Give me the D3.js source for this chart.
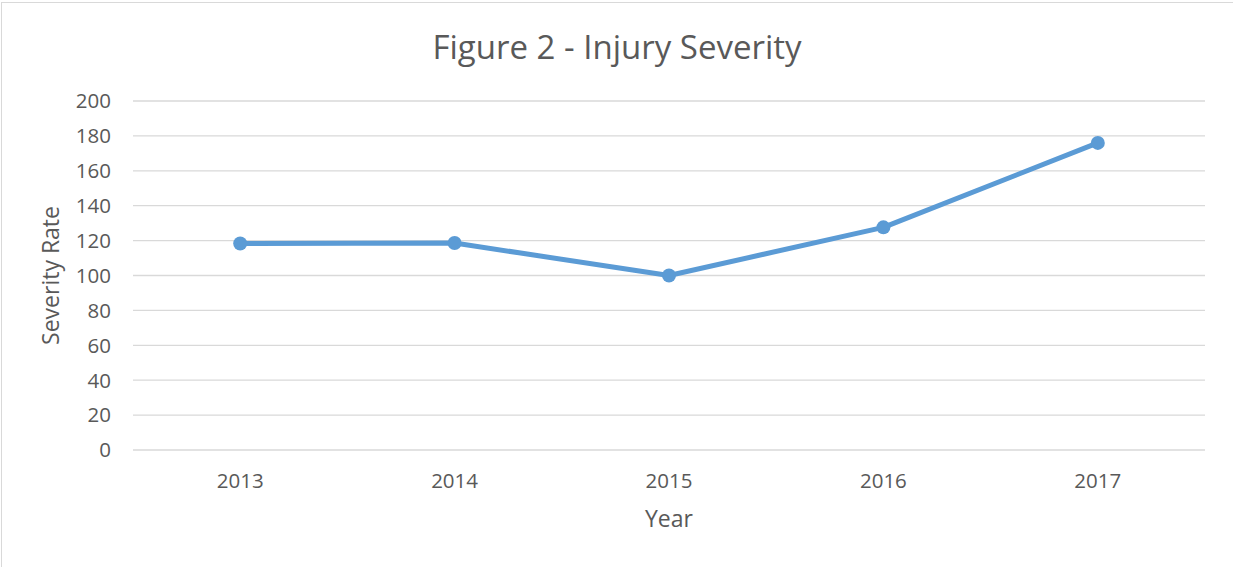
<!DOCTYPE html>
<html>
<head>
<meta charset="utf-8">
<script src="https://cdn.jsdelivr.net/npm/d3@7"></script>
<style>
  body { margin: 0; background: #fff; }
  text { font-family: "Open Sans", "Noto Sans", sans-serif; fill: #595959; }
</style>
</head>
<body>
<svg width="1233" height="567"></svg>
<script>
const years = ["2013", "2014", "2015", "2016", "2017"]
const severity = [118.3, 118.6, 100, 127.6, 176]
const yTicks = [0, 20, 40, 60, 80, 100, 120, 140, 160, 180, 200]

const svg = d3.select("svg"),
    width = +svg.attr("width"),
    height = +svg.attr("height")

const plot = { left: 133, right: 1205, top: 101, bottom: 450 }

// outer chart border (only top and left visible in the crop)
svg.append("rect")
    .attr("x", 1.5).attr("y", 2.5)
    .attr("width", width + 10).attr("height", height + 10)
    .attr("fill", "none")
    .attr("stroke", "#d9d9d9")
    .attr("stroke-width", 1)

const x = d3.scaleBand().domain(years).range([plot.left, plot.right]),
    y = d3.scaleLinear().domain([0, 200]).range([plot.bottom, plot.top])

// gridlines
svg.append("g")
    .selectAll("line")
    .data(yTicks)
    .enter()
    .append("line")
    .attr("x1", plot.left).attr("x2", plot.right)
    .attr("y1", d => y(d)).attr("y2", d => y(d))
    .attr("stroke", "#d9d9d9")
    .attr("stroke-width", 1.3)

// y tick labels
svg.append("g")
    .selectAll("text")
    .data(yTicks)
    .enter()
    .append("text")
    .attr("x", 111)
    .attr("y", d => y(d))
    .attr("dy", "0.36em")
    .attr("text-anchor", "end")
    .attr("font-size", 20.5)
    .text(d => d)

// x tick labels
svg.append("g")
    .selectAll("text")
    .data(years)
    .enter()
    .append("text")
    .attr("x", d => x(d) + x.bandwidth() / 2)
    .attr("y", 488)
    .attr("text-anchor", "middle")
    .attr("font-size", 20.5)
    .text(d => d)

// title
svg.append("text")
    .attr("x", 617).attr("y", 59)
    .attr("text-anchor", "middle")
    .attr("font-size", 33)
    .text("Figure 2 - Injury Severity")

// axis titles
svg.append("text")
    .attr("x", (plot.left + plot.right) / 2).attr("y", 527)
    .attr("text-anchor", "middle")
    .attr("font-size", 23)
    .text("Year")

svg.append("text")
    .attr("transform", "translate(59," + ((plot.top + plot.bottom) / 2) + ") rotate(-90)")
    .attr("text-anchor", "middle")
    .attr("font-size", 23)
    .text("Severity Rate")

const pts = years.map((yr, i) => ({ year: yr, value: severity[i] }))

const line = d3.line()
    .x(d => x(d.year) + x.bandwidth() / 2)
    .y(d => y(d.value))

svg.append("path")
    .attr("d", line(pts))
    .attr("fill", "none")
    .attr("stroke", "#5b9bd5")
    .attr("stroke-width", 5)
    .attr("stroke-linejoin", "round")

svg.append("g")
    .selectAll("circle")
    .data(pts)
    .enter()
    .append("circle")
    .attr("cx", d => x(d.year) + x.bandwidth() / 2)
    .attr("cy", d => y(d.value))
    .attr("r", 7)
    .attr("fill", "#5b9bd5")
</script>
</body>
</html>
